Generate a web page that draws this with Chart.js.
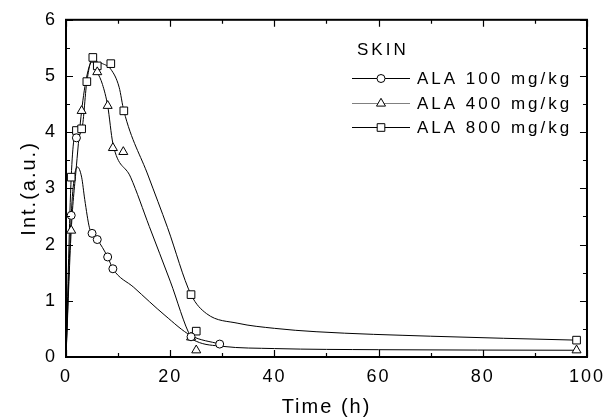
<!DOCTYPE html>
<html>
<head>
<meta charset="utf-8">
<script src="https://cdn.jsdelivr.net/npm/chart.js@4/dist/chart.umd.min.js"></script>
<style>
html,body{margin:0;padding:0;background:#fff;}
#wrap{width:614px;height:419px;position:relative;}
</style>
</head>
<body>
<div id="wrap"><canvas id="c" width="614" height="419"></canvas></div>
<script>
// ---- Data ----
const seriesNames = ["ALA 100 mg/kg", "ALA 400 mg/kg", "ALA 800 mg/kg"];
const legendTitle = "SKIN";
const xTitle = "Time (h)";
const yTitle = "Int.(a.u.)";

// measured markers
const t100 = [1, 2, 5, 6, 8, 9, 24, 29.5];
const v100 = [2.52, 3.9, 2.2, 2.09, 1.78, 1.57, 0.36, 0.23];
const t400 = [1, 3, 6, 8, 9, 11, 24, 25, 98];
const v400 = [2.25, 4.38, 5.07, 4.47, 3.72, 3.65, 0.35, 0.12, 0.12];
const t800 = [1, 2, 3, 4, 5.15, 6, 8.6, 11.1, 24, 25, 98];
const v800 = [3.2, 4.03, 4.06, 4.9, 5.33, 5.18, 5.22, 4.38, 1.11, 0.46, 0.3];

// smoothed curves as drawn in the reference
const c100x = [0, 1, 1.6, 2.2, 3, 3.6, 4.5, 5, 6, 8, 9, 13, 19, 24, 29.5];
const c100y = [0, 2.52, 3.2, 3.38, 3.2, 2.8, 2.3, 2.2, 2.09, 1.78, 1.57, 1.24, 0.74, 0.38, 0.23];
const c400x = [0, 1, 2, 3, 4, 5, 6, 7, 8, 9, 12.4, 16, 20, 24, 25, 30, 40, 60, 98];
const c400y = [0, 2.25, 3.4, 4.38, 5.0, 5.25, 5.07, 4.85, 4.47, 3.8, 3.2, 2.32, 1.35, 0.35, 0.28, 0.19, 0.15, 0.13, 0.12];
const c800x = [0, 1, 2, 3, 4, 5.15, 6, 7, 8.6, 10.2, 11.1, 15.8, 19.5, 24, 27, 33, 40, 48, 70, 98];
const c800y = [0, 3.2, 4.03, 4.06, 4.9, 5.33, 5.25, 5.22, 5.12, 4.8, 4.38, 3.22, 2.3, 1.11, 0.77, 0.6, 0.51, 0.45, 0.37, 0.3];

const xTicks = [0, 20, 40, 60, 80, 100];
const yTicks = [0, 1, 2, 3, 4, 5, 6];

const pts = (xs, ys) => xs.map((x, i) => ({x: x, y: ys[i]}));

const FONT = "'Liberation Sans', Arial, sans-serif";
const styles = ['circle', 'triangle', 'rect'];
const radii = [4, 5.2, 5.4];

function setSpacing(chart){ try { chart.ctx.letterSpacing = '2px'; } catch(e){} }

const framePlugin = {
  id: 'frame',
  beforeLayout(chart){ setSpacing(chart); },
  beforeDraw(chart){ setSpacing(chart); },
  afterDatasetsDraw(chart){
    const {ctx, chartArea: a, scales: {x, y}} = chart;
    ctx.save();
    ctx.strokeStyle = '#000';
    ctx.lineWidth = 1.2;
    ctx.beginPath();
    for (let v = 0; v <= 100; v += 10) {
      const px = Math.round(x.getPixelForValue(v)) + 0.5;
      const L = (v % 20 === 0) ? 7 : 4;
      ctx.moveTo(px, a.bottom); ctx.lineTo(px, a.bottom - L);
      ctx.moveTo(px, a.top); ctx.lineTo(px, a.top + L);
    }
    for (let k = 0; k <= 12; k++) {
      const v = k / 2;
      const py = Math.round(y.getPixelForValue(v)) + 0.5;
      const L = (k % 2 === 0) ? 7 : 4;
      ctx.moveTo(a.left, py); ctx.lineTo(a.left + L, py);
      ctx.moveTo(a.right, py); ctx.lineTo(a.right - L, py);
    }
    ctx.stroke();
    ctx.lineWidth = 2;
    ctx.strokeRect(a.left, a.top, a.right - a.left, a.bottom - a.top);
    ctx.restore();
  },
  afterDraw(chart){
    const ctx = chart.ctx;
    ctx.save();
    try { ctx.letterSpacing = '3px'; } catch(e){}
    ctx.fillStyle = '#000';
    ctx.font = '17px ' + FONT;
    ctx.textBaseline = 'alphabetic';
    ctx.textAlign = 'left';
    ctx.fillText(legendTitle, 357, 55);
    ctx.textBaseline = 'middle';
    const rows = [78, 103, 127];
    const lineCols = ['#000', '#808080', '#000'];
    rows.forEach((ry, i) => {
      ctx.strokeStyle = lineCols[i];
      ctx.lineWidth = 1.2;
      ctx.beginPath(); ctx.moveTo(352, ry + 0.5); ctx.lineTo(410, ry + 0.5); ctx.stroke();
      ctx.fillStyle = '#fff';
      ctx.strokeStyle = '#000';
      ctx.lineWidth = 1;
      Chart.helpers.drawPoint(ctx, {pointStyle: styles[i], radius: radii[i], borderWidth: 1, rotation: 0}, 381, ry + 0.5);
      ctx.fillStyle = '#000';
      ctx.fillText(seriesNames[i], 417, ry + 1);
    });
    ctx.restore();
  }
};

const curves = [pts(c100x, c100y), pts(c400x, c400y), pts(c800x, c800y)];
const marks = [pts(t100, v100), pts(t400, v400), pts(t800, v800)];

const datasets = [];
marks.forEach((m, i) => {
  datasets.push({
    label: seriesNames[i], data: m, showLine: false, order: 0,
    pointStyle: styles[i], pointRadius: radii[i], pointBackgroundColor: '#fff',
    pointBorderColor: '#000', pointBorderWidth: 1, pointHoverRadius: radii[i]
  });
});
curves.forEach((c, i) => {
  datasets.push({
    label: seriesNames[i] + ' curve', type: 'line', data: c, order: 1,
    borderColor: '#000', borderWidth: 1, pointRadius: 0, fill: false,
    cubicInterpolationMode: 'monotone'
  });
});

new Chart(document.getElementById('c'), {
  type: 'scatter',
  data: { datasets: datasets },
  options: {
    responsive: false,
    animation: false,
    events: [],
    layout: { padding: { left: 0, right: 17, top: 19, bottom: 0 } },
    plugins: { legend: { display: false }, tooltip: { enabled: false } },
    scales: {
      x: {
        type: 'linear', min: 0, max: 100,
        afterBuildTicks(s){ s.ticks = xTicks.map(v => ({value: v})); },
        afterFit(s){ s.height = 62; },
        grid: { display: false, drawTicks: false },
        border: { display: false },
        ticks: { color: '#000', padding: 9, maxRotation: 0, font: { family: FONT, size: 18 } },
        title: { display: true, text: xTitle, color: '#000', padding: { top: 0, bottom: 0 }, font: { family: FONT, size: 20 } }
      },
      y: {
        type: 'linear', min: 0, max: 6,
        afterBuildTicks(s){ s.ticks = yTicks.map(v => ({value: v})); },
        afterFit(s){ s.width = 66; },
        grid: { display: false, drawTicks: false },
        border: { display: false },
        ticks: { color: '#000', padding: 9, font: { family: FONT, size: 18 } },
        title: { display: true, text: yTitle, color: '#000', padding: { top: 17, bottom: 0 }, font: { family: FONT, size: 20 } }
      }
    }
  },
  plugins: [framePlugin]
});
</script>
</body>
</html>
